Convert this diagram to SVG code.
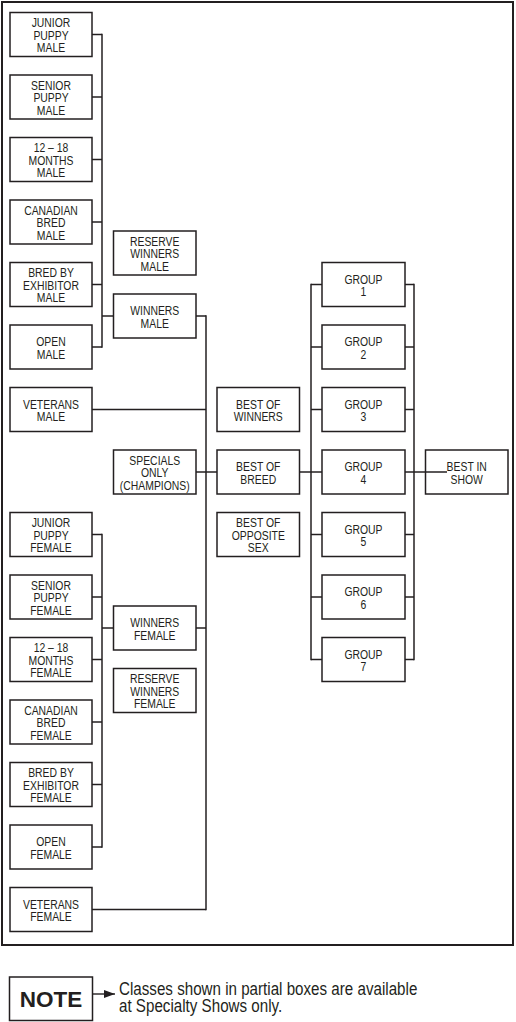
<svg xmlns="http://www.w3.org/2000/svg" width="516" height="1022" viewBox="0 0 516 1022">
<style>
.b{fill:#fff;stroke:#231f20;stroke-width:1.5}
.t{font-family:"Liberation Sans",Arial,sans-serif;font-size:13px;fill:#231f20;text-anchor:middle}
.c line{stroke:#231f20;stroke-width:1.5;fill:none}
.n{font-family:"Liberation Sans",Arial,sans-serif;font-size:18.5px;fill:#231f20}
</style>
<defs>
<marker id="ah" markerWidth="12" markerHeight="8" refX="11" refY="4" orient="auto" markerUnits="userSpaceOnUse">
<path d="M0,0 L11,4 L0,8 Z" fill="#231f20"/>
</marker>
</defs>
<rect x="2" y="2" width="511" height="943" fill="none" stroke="#231f20" stroke-width="2"/>

<g class="c" id="connectors">
<line x1="92" y1="34.5" x2="102" y2="34.5"/>
<line x1="92" y1="97" x2="102" y2="97"/>
<line x1="92" y1="159.5" x2="102" y2="159.5"/>
<line x1="92" y1="222" x2="102" y2="222"/>
<line x1="92" y1="284.5" x2="102" y2="284.5"/>
<line x1="92" y1="347" x2="102" y2="347"/>
<line x1="102" y1="33.8" x2="102" y2="347.7"/>
<line x1="102" y1="316" x2="113.5" y2="316"/>
<line x1="92" y1="534.5" x2="102" y2="534.5"/>
<line x1="92" y1="597" x2="102" y2="597"/>
<line x1="92" y1="659.5" x2="102" y2="659.5"/>
<line x1="92" y1="722" x2="102" y2="722"/>
<line x1="92" y1="784.5" x2="102" y2="784.5"/>
<line x1="92" y1="847" x2="102" y2="847"/>
<line x1="102" y1="533.8" x2="102" y2="847.7"/>
<line x1="102" y1="628" x2="113.5" y2="628"/>
<line x1="196" y1="316" x2="206" y2="316"/>
<line x1="92" y1="409.5" x2="206" y2="409.5"/>
<line x1="196" y1="628" x2="206" y2="628"/>
<line x1="92" y1="909.5" x2="206" y2="909.5"/>
<line x1="206" y1="315.3" x2="206" y2="910.2"/>
<line x1="196" y1="472" x2="217" y2="472"/>
<line x1="299.5" y1="472" x2="311" y2="472"/>
<line x1="311" y1="283.8" x2="311" y2="660.2"/>
<line x1="311" y1="284.5" x2="322" y2="284.5"/>
<line x1="311" y1="347" x2="322" y2="347"/>
<line x1="311" y1="409.5" x2="322" y2="409.5"/>
<line x1="311" y1="472" x2="322" y2="472"/>
<line x1="311" y1="534.5" x2="322" y2="534.5"/>
<line x1="311" y1="597" x2="322" y2="597"/>
<line x1="311" y1="659.5" x2="322" y2="659.5"/>
<line x1="405" y1="284.5" x2="414" y2="284.5"/>
<line x1="405" y1="347" x2="414" y2="347"/>
<line x1="405" y1="409.5" x2="414" y2="409.5"/>
<line x1="405" y1="534.5" x2="414" y2="534.5"/>
<line x1="405" y1="597" x2="414" y2="597"/>
<line x1="405" y1="659.5" x2="414" y2="659.5"/>
<line x1="414" y1="283.8" x2="414" y2="660.2"/>
<line x1="405" y1="472" x2="425.5" y2="472"/>
</g>

<g id="junior-puppy-male"><rect class="b" x="10" y="12.5" width="82" height="44"/><text class="t" transform="matrix(0.8 0 0 1 51 0)"><tspan x="0" y="27.3">JUNIOR</tspan><tspan x="0" y="39.8">PUPPY</tspan><tspan x="0" y="52.3">MALE</tspan></text></g>
<g id="senior-puppy-male"><rect class="b" x="10" y="75" width="82" height="44"/><text class="t" transform="matrix(0.8 0 0 1 51 0)"><tspan x="0" y="89.8">SENIOR</tspan><tspan x="0" y="102.3">PUPPY</tspan><tspan x="0" y="114.8">MALE</tspan></text></g>
<g id="months-male"><rect class="b" x="10" y="137.5" width="82" height="44"/><text class="t" transform="matrix(0.8 0 0 1 51 0)"><tspan x="0" y="152.3">12 – 18</tspan><tspan x="0" y="164.8">MONTHS</tspan><tspan x="0" y="177.3">MALE</tspan></text></g>
<g id="canadian-bred-male"><rect class="b" x="10" y="200" width="82" height="44"/><text class="t" transform="matrix(0.8 0 0 1 51 0)"><tspan x="0" y="214.8">CANADIAN</tspan><tspan x="0" y="227.3">BRED</tspan><tspan x="0" y="239.8">MALE</tspan></text></g>
<g id="bred-by-exhibitor-male"><rect class="b" x="10" y="262.5" width="82" height="44"/><text class="t" transform="matrix(0.8 0 0 1 51 0)"><tspan x="0" y="277.3">BRED BY</tspan><tspan x="0" y="289.8">EXHIBITOR</tspan><tspan x="0" y="302.3">MALE</tspan></text></g>
<g id="open-male"><rect class="b" x="10" y="325" width="82" height="44"/><text class="t" transform="matrix(0.8 0 0 1 51 0)"><tspan x="0" y="346.3">OPEN</tspan><tspan x="0" y="358.8">MALE</tspan></text></g>
<g id="veterans-male"><rect class="b" x="10" y="387.5" width="82" height="44"/><text class="t" transform="matrix(0.8 0 0 1 51 0)"><tspan x="0" y="408.8">VETERANS</tspan><tspan x="0" y="421.3">MALE</tspan></text></g>

<g id="junior-puppy-female"><rect class="b" x="10" y="512.5" width="82" height="44"/><text class="t" transform="matrix(0.8 0 0 1 51 0)"><tspan x="0" y="527.3">JUNIOR</tspan><tspan x="0" y="539.8">PUPPY</tspan><tspan x="0" y="552.3">FEMALE</tspan></text></g>
<g id="senior-puppy-female"><rect class="b" x="10" y="575" width="82" height="44"/><text class="t" transform="matrix(0.8 0 0 1 51 0)"><tspan x="0" y="589.8">SENIOR</tspan><tspan x="0" y="602.3">PUPPY</tspan><tspan x="0" y="614.8">FEMALE</tspan></text></g>
<g id="months-female"><rect class="b" x="10" y="637.5" width="82" height="44"/><text class="t" transform="matrix(0.8 0 0 1 51 0)"><tspan x="0" y="652.3">12 – 18</tspan><tspan x="0" y="664.8">MONTHS</tspan><tspan x="0" y="677.3">FEMALE</tspan></text></g>
<g id="canadian-bred-female"><rect class="b" x="10" y="700" width="82" height="44"/><text class="t" transform="matrix(0.8 0 0 1 51 0)"><tspan x="0" y="714.8">CANADIAN</tspan><tspan x="0" y="727.3">BRED</tspan><tspan x="0" y="739.8">FEMALE</tspan></text></g>
<g id="bred-by-exhibitor-female"><rect class="b" x="10" y="762.5" width="82" height="44"/><text class="t" transform="matrix(0.8 0 0 1 51 0)"><tspan x="0" y="777.3">BRED BY</tspan><tspan x="0" y="789.8">EXHIBITOR</tspan><tspan x="0" y="802.3">FEMALE</tspan></text></g>
<g id="open-female"><rect class="b" x="10" y="825" width="82" height="44"/><text class="t" transform="matrix(0.8 0 0 1 51 0)"><tspan x="0" y="846.3">OPEN</tspan><tspan x="0" y="858.8">FEMALE</tspan></text></g>
<g id="veterans-female"><rect class="b" x="10" y="887.5" width="82" height="44"/><text class="t" transform="matrix(0.8 0 0 1 51 0)"><tspan x="0" y="908.8">VETERANS</tspan><tspan x="0" y="921.3">FEMALE</tspan></text></g>

<g id="reserve-winners-male"><rect class="b" x="113.5" y="231" width="82.5" height="44"/><text class="t" transform="matrix(0.8 0 0 1 154.75 0)"><tspan x="0" y="245.8">RESERVE</tspan><tspan x="0" y="258.3">WINNERS</tspan><tspan x="0" y="270.8">MALE</tspan></text></g>
<g id="winners-male"><rect class="b" x="113.5" y="294" width="82.5" height="44"/><text class="t" transform="matrix(0.8 0 0 1 154.75 0)"><tspan x="0" y="315.3">WINNERS</tspan><tspan x="0" y="327.8">MALE</tspan></text></g>
<g id="specials-only"><rect class="b" x="113.5" y="450" width="82.5" height="44"/><text class="t" transform="matrix(0.8 0 0 1 154.75 0)"><tspan x="0" y="464.8">SPECIALS</tspan><tspan x="0" y="477.3">ONLY</tspan><tspan x="0" y="489.8">(CHAMPIONS)</tspan></text></g>
<g id="winners-female"><rect class="b" x="113.5" y="606" width="82.5" height="44"/><text class="t" transform="matrix(0.8 0 0 1 154.75 0)"><tspan x="0" y="627.3">WINNERS</tspan><tspan x="0" y="639.8">FEMALE</tspan></text></g>
<g id="reserve-winners-female"><rect class="b" x="113.5" y="668.5" width="82.5" height="44"/><text class="t" transform="matrix(0.8 0 0 1 154.75 0)"><tspan x="0" y="683.3">RESERVE</tspan><tspan x="0" y="695.8">WINNERS</tspan><tspan x="0" y="708.3">FEMALE</tspan></text></g>

<g id="best-of-winners"><rect class="b" x="217" y="387.5" width="82.5" height="44"/><text class="t" transform="matrix(0.8 0 0 1 258.25 0)"><tspan x="0" y="408.8">BEST OF</tspan><tspan x="0" y="421.3">WINNERS</tspan></text></g>
<g id="best-of-breed"><rect class="b" x="217" y="450" width="82.5" height="44"/><text class="t" transform="matrix(0.8 0 0 1 258.25 0)"><tspan x="0" y="471.3">BEST OF</tspan><tspan x="0" y="483.8">BREED</tspan></text></g>
<g id="best-of-opposite-sex"><rect class="b" x="217" y="512.5" width="82.5" height="44"/><text class="t" transform="matrix(0.8 0 0 1 258.25 0)"><tspan x="0" y="527.3">BEST OF</tspan><tspan x="0" y="539.8">OPPOSITE</tspan><tspan x="0" y="552.3">SEX</tspan></text></g>

<g id="group-1"><rect class="b" x="322" y="262.5" width="83" height="44"/><text class="t" transform="matrix(0.8 0 0 1 363.5 0)"><tspan x="0" y="283.8">GROUP</tspan><tspan x="0" y="296.3">1</tspan></text></g>
<g id="group-2"><rect class="b" x="322" y="325" width="83" height="44"/><text class="t" transform="matrix(0.8 0 0 1 363.5 0)"><tspan x="0" y="346.3">GROUP</tspan><tspan x="0" y="358.8">2</tspan></text></g>
<g id="group-3"><rect class="b" x="322" y="387.5" width="83" height="44"/><text class="t" transform="matrix(0.8 0 0 1 363.5 0)"><tspan x="0" y="408.8">GROUP</tspan><tspan x="0" y="421.3">3</tspan></text></g>
<g id="group-4"><rect class="b" x="322" y="450" width="83" height="44"/><text class="t" transform="matrix(0.8 0 0 1 363.5 0)"><tspan x="0" y="471.3">GROUP</tspan><tspan x="0" y="483.8">4</tspan></text></g>
<g id="group-5"><rect class="b" x="322" y="512.5" width="83" height="44"/><text class="t" transform="matrix(0.8 0 0 1 363.5 0)"><tspan x="0" y="533.8">GROUP</tspan><tspan x="0" y="546.3">5</tspan></text></g>
<g id="group-6"><rect class="b" x="322" y="575" width="83" height="44"/><text class="t" transform="matrix(0.8 0 0 1 363.5 0)"><tspan x="0" y="596.3">GROUP</tspan><tspan x="0" y="608.8">6</tspan></text></g>
<g id="group-7"><rect class="b" x="322" y="637.5" width="83" height="44"/><text class="t" transform="matrix(0.8 0 0 1 363.5 0)"><tspan x="0" y="658.8">GROUP</tspan><tspan x="0" y="671.3">7</tspan></text></g>

<g id="best-in-show"><rect class="b" x="425.5" y="450" width="82.5" height="44"/><line x1="425.5" y1="472" x2="447" y2="472" stroke="#231f20" stroke-width="1.5"/><text class="t" transform="matrix(0.8 0 0 1 466.75 0)"><tspan x="0" y="471.3">BEST IN</tspan><tspan x="0" y="483.8">SHOW</tspan></text></g>

<g id="note">
<rect x="9.5" y="977" width="83" height="43.5" fill="#fff" stroke="#231f20" stroke-width="1.5"/>
<text x="51" y="1006.5" font-family="'Liberation Sans',Arial,sans-serif" font-size="22.5" font-weight="bold" fill="#231f20" text-anchor="middle">NOTE</text>
<line x1="92.5" y1="994" x2="115" y2="994" stroke="#231f20" stroke-width="1.4" marker-end="url(#ah)"/>
<text class="n" transform="matrix(0.82 0 0 1 119 0)" x="0" y="995">Classes shown in partial boxes are available</text>
<text class="n" transform="matrix(0.82 0 0 1 119 0)" x="0" y="1012.5">at Specialty Shows only.</text>
</g>
</svg>
